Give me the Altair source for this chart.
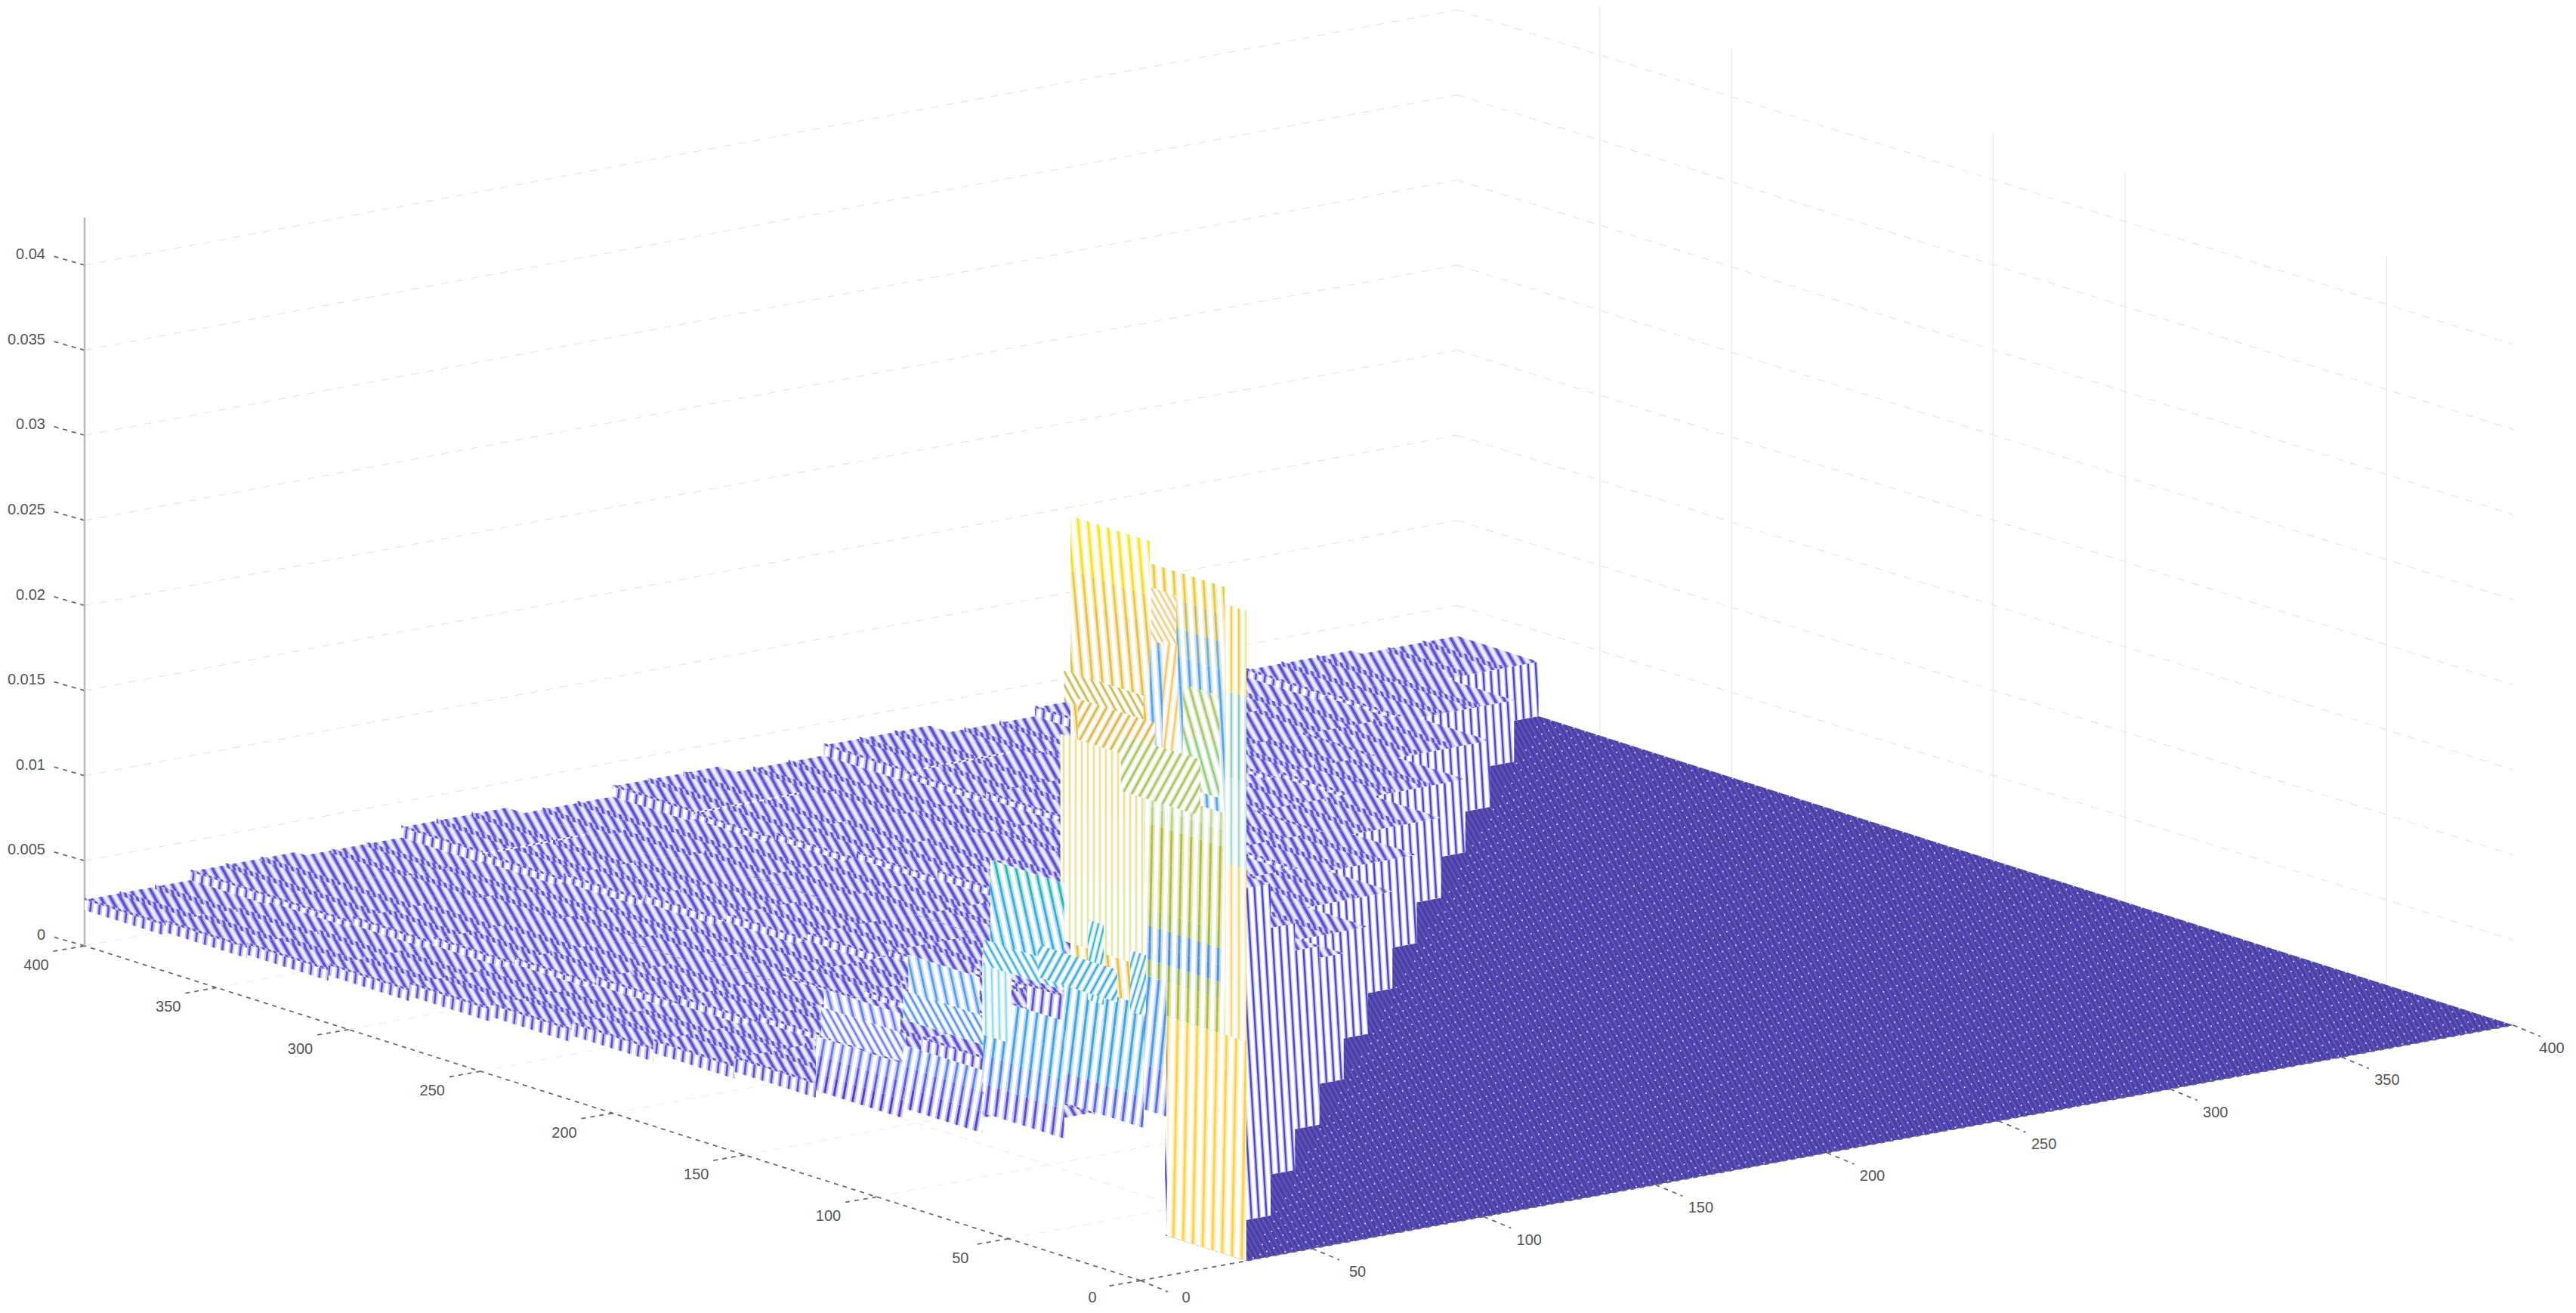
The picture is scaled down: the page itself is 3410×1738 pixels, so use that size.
import math
import altair as alt
import pandas as pd

alt.data_transformers.disable_max_rows()

# ---------- values ----------
Z_TICKS = [0, 0.005, 0.01, 0.015, 0.02, 0.025, 0.03, 0.035, 0.04]
Z_LABELS = ["0", "0.005", "0.01", "0.015", "0.02", "0.025", "0.03", "0.035", "0.04"]
XY_TICKS = [0, 50, 100, 150, 200, 250, 300, 350, 400]
WALL_V = [48, 147, 197, 296, 346]
Z_TOP = 0.0428
CELL = 400 / 13

# block tops, row j = y index, entries i = x index (units of 0.001)
H = [
    [9.0],
    [8.0, 19.5],
    [6.5, 9.0, 14.5],
    [6.0, 7.0, 9.0, 10.5],
    [5.5, 6.0, 6.5, 7.0, 7.4],
    [5.0, 5.3, 5.6, 5.8, 6.0, 6.3],
    [4.5, 4.9, 5.0, 5.3, 5.2, 5.5, 5.7],
    [4.1, 4.5, 4.4, 4.8, 4.7, 4.9, 5.0, 5.2],
    [3.8, 4.1, 4.0, 4.4, 4.2, 4.6, 4.4, 4.7, 4.7],
    [3.4, 3.8, 3.6, 4.0, 3.9, 4.2, 4.0, 4.3, 4.1, 4.3],
    [3.1, 3.5, 3.3, 3.7, 3.5, 3.8, 3.6, 3.9, 3.7, 3.9, 3.9],
    [2.9, 3.2, 3.0, 3.4, 3.2, 3.5, 3.3, 3.6, 3.3, 3.6, 3.4, 3.6],
    [2.7, 3.2, 2.9, 3.5, 3.0, 3.6, 3.1, 3.7, 3.1, 3.6, 3.1, 3.5, 3.2],
]
# lower rim of the front edge, one per row (units of 0.001)
RIM = [9.0, 7.0, 5.8, 5.2, 4.7, 4.3, 3.8, 3.4, 3.1, 2.8, 2.5, 2.3, 2.1]

BLUE_W = ["#5aa6ec"] * 13 + ["#7fb0bc", "#c8c060", "#e8cc40"]
TALL_W = ["#e4c24a"] * 16 + ["#e8cc40", "#f3df30", "#f5e428"]
OLIVE_W = ["#b4bd3c"] * 2 + ["#9ab45a", "#4f8ed8", "#5a94d0", "#a0b84a"] + ["#b4bd3c"] * 5 + ["#bcd08a", "#c4dca8"]

# front cluster: y0, y1, z bottom, z top, lean, pitch, colours bottom -> top
BACK_PANELS = [
    (0, 30, 0.0, 0.0129, -0.02, 13, ["#fdd24a"]),
    (8.2, 36.6, 0.0129, 0.0392, 0.06, 13, BLUE_W),
    (0, 8.2, 0.0129, 0.0382, 0.0, 10, ["#fbd77a", "#fbd77a", "#a8dccc", "#8fcfc0", "#f5d04a"]),
    (36.6, 66.6, 0.0101, 0.0405, 0.09, 13, TALL_W),
    (26.5, 36, 0.0347, 0.0378, 0.55, 8, ["#f3c46a"]),
    (26, 31.7, 0.0281, 0.0349, -0.12, 10, ["#f8c66a"]),
    (10.2, 24, 0.0267, 0.0327, 0.28, 12, ["#94cc84", "#a8c66a"]),
    (38.9, 69, 0.0295, 0.0313, 0.55, 10, ["#c8b84c"]),
    (8.2, 39, 0.0129, 0.0259, -0.02, 13, OLIVE_W),
    (39, 70.4, 0.0154, 0.0275, 0.0, 8, ["#dfe8a8", "#e8e0a0", "#f0dc90"]),
    (34.6, 63.8, 0.0275, 0.0299, -0.55, 12, ["#dbb54a"]),
    (17.4, 47.5, 0.0253, 0.0286, -0.55, 12, ["#a9c35a"]),
]
PANELS = [
    (131, 160, 0.0060, 0.0081, 0.25, 13, ["#6a7cf0"]),
    (130, 163, 0.0020, 0.0052, -0.18, 13, ["#4e3fd0", "#5a5ae0", "#6a7cec"]),
    (129, 161, 0.0053, 0.0070, 0.55, 10, ["#6a78ee"]),
    (101, 128, 0.0078, 0.0117, 0.22, 13, ["#5aa0f0"]),
    (100, 130, 0.0026, 0.0063, -0.18, 13, ["#4c44d4", "#5a62e2", "#5f86ea"]),
    (97.6, 130, 0.0078, 0.0095, 0.55, 10, ["#4f8ff0"]),
    (69, 97, 0.0133, 0.0188, 0.22, 13, ["#38aedc", "#38aedc", "#38aedc", "#2ab6b8"]),
    (69, 99.6, 0.0038, 0.0107, -0.12, 13, ["#5a4fd8", "#4f86e6", "#42a4e6", "#42a4e6"]),
    (89, 100, 0.0084, 0.0131, 0.02, 9, ["#8fdcec"]),
    (69, 99.6, 0.0125, 0.0140, 0.55, 10, ["#3ab0e0"]),
    (30.3, 38.9, 0.0070, 0.0149, -0.1, 13, ["#5a70e0", "#4f98e6", "#4f98e6"]),
]
FRONT_PANELS = [
    (38.9, 69, 0.0059, 0.0131, -0.12, 13, ["#5566e0", "#3fa0e0", "#3fa6dc", "#3fa6dc"]),
    (54, 60, 0.0124, 0.0171, -0.25, 8, ["#30b5d0"]),
    (38, 44, 0.0125, 0.0161, -0.3, 8, ["#3fb0dc"]),
    (48.9, 79, 0.0128, 0.0147, -0.55, 11, ["#38aadc"]),
]

# ---------- view of the box ----------
def P(x, y, z=0.0):
    return (1510 + 4.5425 * x - 3.495 * y, 1695 - 0.845 * x - 1.1075 * y - 22525 * z)


def clip_half(poly, f):
    out = []
    n = len(poly)
    for k in range(n):
        a, b = poly[k], poly[(k + 1) % n]
        fa, fb = f(a), f(b)
        if fa >= 0:
            out.append(a)
        if fa * fb < 0:
            t = fa / (fa - fb)
            out.append((a[0] + t * (b[0] - a[0]), a[1] + t * (b[1] - a[1])))
    return out


class Sink:
    def __init__(self):
        self.rows = []
        self.g = 0

    def add(self, poly, color):
        if len(poly) < 3:
            return
        xs = sorted({round(p[0], 1) for p in poly})
        if len(xs) < 2:
            return
        self.g += 1
        n = len(poly)
        for x in xs:
            ys = []
            for k in range(n):
                (x1, y1), (x2, y2) = poly[k], poly[(k + 1) % n]
                x1r, x2r = round(x1, 1), round(x2, 1)
                if min(x1r, x2r) <= x <= max(x1r, x2r):
                    if x1r == x2r:
                        ys += [y1, y2]
                    else:
                        t = (x - x1r) / (x2r - x1r)
                        ys.append(y1 + t * (y2 - y1))
            if ys:
                self.rows.append({"x": x, "y": round(min(ys), 1), "y2": round(max(ys), 1), "g": self.g, "c": color})


def mix(hexc, amt):
    r, g, b = int(hexc[1:3], 16), int(hexc[3:5], 16), int(hexc[5:7], 16)
    f = lambda v: int(round(v + (255 - v) * amt))
    return "#%02x%02x%02x" % (f(r), f(g), f(b))


def stripes(sink, poly, color, lean, pitch, wide=0.6, narrow=0.22, pale=0.66, phase=0.0):
    us = [p[0] - lean * p[1] for p in poly]
    k0 = math.floor(min(us) / pitch) - 1
    k1 = math.ceil(max(us) / pitch) + 1
    layers = [(wide, mix(color, pale)), (narrow, color)]
    for k in range(k0, k1 + 1):
        c0 = k * pitch + phase
        for w, col in layers:
            if w <= 0:
                continue
            hw = w * pitch / 2
            q = clip_half(poly, lambda p: (p[0] - lean * p[1]) - (c0 - hw))
            if q:
                q = clip_half(q, lambda p: (c0 + hw) - (p[0] - lean * p[1]))
            if len(q) >= 3:
                sink.add(q, col)


def sheet(sink, x, y0, y1, zb, zt, lean, pitch, colors):
    n = len(colors)
    corners = [P(x, y0, zb), P(x, y1, zb), P(x, y1, zt), P(x, y0, zt)]
    sink.add(corners, "#ffffff")
    for b, col in enumerate(colors):
        a0 = zb + (zt - zb) * b / n
        a1 = zb + (zt - zb) * (b + 1) / n
        stripes(sink, [P(x, y0, a0), P(x, y1, a0), P(x, y1, a1), P(x, y0, a1)], col, lean, pitch)


PURPLE = "#5a52d0"

# ---------- axes and grid ----------
grid = []
for z in Z_TICKS:
    grid.append((P(0, 400, z), P(400, 400, z)))
    grid.append((P(400, 400, z), P(400, 0, z)))
grid_df = pd.DataFrame([{"x": a[0], "y": a[1], "x2": b[0], "y2": b[1]} for a, b in grid])

floor_lines = []
for v in XY_TICKS[1:]:
    floor_lines.append((P(v, 0), P(v, 400)))
    floor_lines.append((P(0, v), P(400, v)))
floor_df0 = pd.DataFrame([{"x": a[0], "y": a[1], "x2": b[0], "y2": b[1]} for a, b in floor_lines])

walls = [(P(400, v, 0), P(400, v, Z_TOP)) for v in WALL_V]
walls_df = pd.DataFrame([{"x": a[0], "y": a[1], "x2": b[0], "y2": b[1]} for a, b in walls])

dark = [(P(0, 0), P(400, 0)), (P(0, 0), P(0, 400))]
for z in Z_TICKS:
    a = P(0, 400, z)
    dark.append((a, (a[0] - 42, a[1] - 12)))
for v in XY_TICKS:
    a = P(v, 0)
    dark.append((a, (a[0] + 36, a[1] + 15)))
    b = P(0, v)
    dark.append((b, (b[0] - 46, b[1] + 8)))
dark_df = pd.DataFrame([{"x": a[0], "y": a[1], "x2": b[0], "y2": b[1]} for a, b in dark])

solid_df = pd.DataFrame([{"x": P(0, 400, 0)[0], "y": P(0, 400, 0)[1], "x2": P(0, 400, Z_TOP)[0], "y2": P(0, 400, Z_TOP)[1]}])

labels = []
for z, t in zip(Z_TICKS, Z_LABELS):
    a = P(0, 400, z)
    labels.append({"x": 60, "y": a[1] - 14, "t": t, "a": "right"})
for v in XY_TICKS:
    a = P(v, 0)
    labels.append({"x": min(a[0] + 60, 3378), "y": min(a[1] + 31, 1718), "t": str(v), "a": "center"})
    b = P(0, v)
    labels.append({"x": b[0] - 64, "y": min(b[1] + 26, 1718), "t": str(v), "a": "center"})
labels_df = pd.DataFrame(labels)

# ---------- floor ----------
floor = Sink()
floor_poly = [P(CELL, 0), P(400, 0), P(400, 12 * CELL), P(12 * CELL, 12 * CELL), P(CELL, CELL)]
floor.add(floor_poly, "#4a40a8")
us = [p[0] - 0.55 * p[1] for p in floor_poly]
k = math.floor(min(us) / 7)
while k * 7 < max(us):
    q = clip_half(floor_poly, lambda p: (p[0] - 0.55 * p[1]) - (k * 7 - 1.1))
    if q:
        q = clip_half(q, lambda p: (k * 7 + 1.1) - (p[0] - 0.55 * p[1]))
    if len(q) >= 3:
        floor.add(q, "#6158ba")
    k += 1
floor_df = pd.DataFrame(floor.rows)

dots = []
a = 0
xv = CELL
while xv < 400:
    yv = 0.0 + (a % 3) * 1.4
    while yv < xv - CELL - 1:
        dots.append(dict(zip(("x", "y"), P(xv, yv))))
        yv += 4.3
    xv += 3.1
    a += 1
dots_df = pd.DataFrame(dots)

# ---------- surface, painted from the back to the front ----------
s = Sink()
STRIPS = 3
for j in range(12, 0, -1):
    for i in range(j, -1, -1):
        top = H[j][i] * 0.001
        x0, x1, y0, y1 = i * CELL, (i + 1) * CELL, j * CELL, (j + 1) * CELL
        s.add([P(x0, y0, top), P(x1, y0, top), P(x1, y1, top), P(x0, y1, top)], "#ecebfa")
        for m in range(STRIPS):
            xa, xb = x0 + m * CELL / STRIPS, x0 + (m + 1) * CELL / STRIPS
            quad = [P(xa, y0, top), P(xb, y0, top), P(xb, y1, top), P(xa, y1, top)]
            stripes(s, quad, PURPLE, 0.55, 13, wide=0.62, narrow=0.3, pale=0.55, phase=m * 6.5)
        for m in range(STRIPS):
            xb = x0 + m * CELL / STRIPS
            a1, a2 = P(xb, y0, top), P(xb, y1, top)
            band = [(a1[0], a1[1] - 3), (a2[0], a2[1] - 3), (a2[0], a2[1] + 3), (a1[0], a1[1] + 3)]
            s.add(band, "#c6c3ee")
            stripes(s, band, "#5c54d8", 0.3, 7, wide=0, narrow=0.5)
        low = RIM[j] * 0.001 if i == 0 else H[j][i - 1] * 0.001
        if low < top:
            sheet(s, x0, y0, y1, low, top, -0.1, 12, [PURPLE])
        side_low = 0.0 if i == j else H[j - 1][i] * 0.001
        if side_low < top:
            corners = [P(x0, y0, side_low), P(x1, y0, side_low), P(x1, y0, top), P(x0, y0, top)]
            s.add(corners, "#ffffff")
            stripes(s, corners, "#5048cc", 0.06, 10, wide=0.55, narrow=0.24, pale=0.72)

for row in BACK_PANELS + PANELS + FRONT_PANELS:
    y0, y1, zb, zt, lean, pitch, cols = row
    sheet(s, CELL, y0, y1, zb, zt, lean, pitch, cols)
surface_df = pd.DataFrame(s.rows)

# ---------- chart ----------
W, HT = 3394, 1722
sx = alt.Scale(domain=[8, 8 + W], nice=False, zero=False)
sy = alt.Scale(domain=[8 + HT, 8], nice=False, zero=False)
ex = alt.X("x:Q", scale=sx, axis=None)
ey = alt.Y("y:Q", scale=sy, axis=None)
ex2, ey2 = alt.X2("x2:Q"), alt.Y2("y2:Q")


def rules(df, color, width, dash=None):
    kw = {"color": color, "strokeWidth": width, "clip": True}
    if dash:
        kw["strokeDash"] = dash
    return alt.Chart(df).mark_rule(**kw).encode(x=ex, y=ey, x2=ex2, y2=ey2)


def area(df):
    return alt.Chart(df).mark_area(interpolate="linear", strokeWidth=0, clip=True).encode(
        x=ex, y=ey, y2=ey2, detail="g:N", color=alt.Color("c:N", scale=None)
    )


def texts(df, align):
    return alt.Chart(df[df.a == align]).mark_text(
        font="Liberation Sans", fontSize=20, color="#555555", baseline="middle", align=align
    ).encode(x=ex, y=ey, text="t:N")


chart = alt.layer(
    rules(grid_df, "#e6e6e6", 1.2, [10, 10]),
    rules(floor_df0, "#efefef", 1.2, [10, 10]),
    rules(walls_df, "#ebebeb", 1.5),
    area(floor_df),
    alt.Chart(dots_df).mark_point(filled=True, size=5, color="#e4e2f6", opacity=0.85, clip=True).encode(x=ex, y=ey),
    rules(dark_df, "#6a6a6a", 1.8, [6, 6]),
    rules(solid_df, "#b8b8b8", 2.5),
    area(surface_df),
    texts(labels_df, "center"),
    texts(labels_df, "right"),
).properties(width=W, height=HT, padding=0, autosize=alt.AutoSizeParams(type="none"), background="white").configure_view(stroke=None)

chart.save("out.html", embed_options={"renderer": "svg", "actions": False})
